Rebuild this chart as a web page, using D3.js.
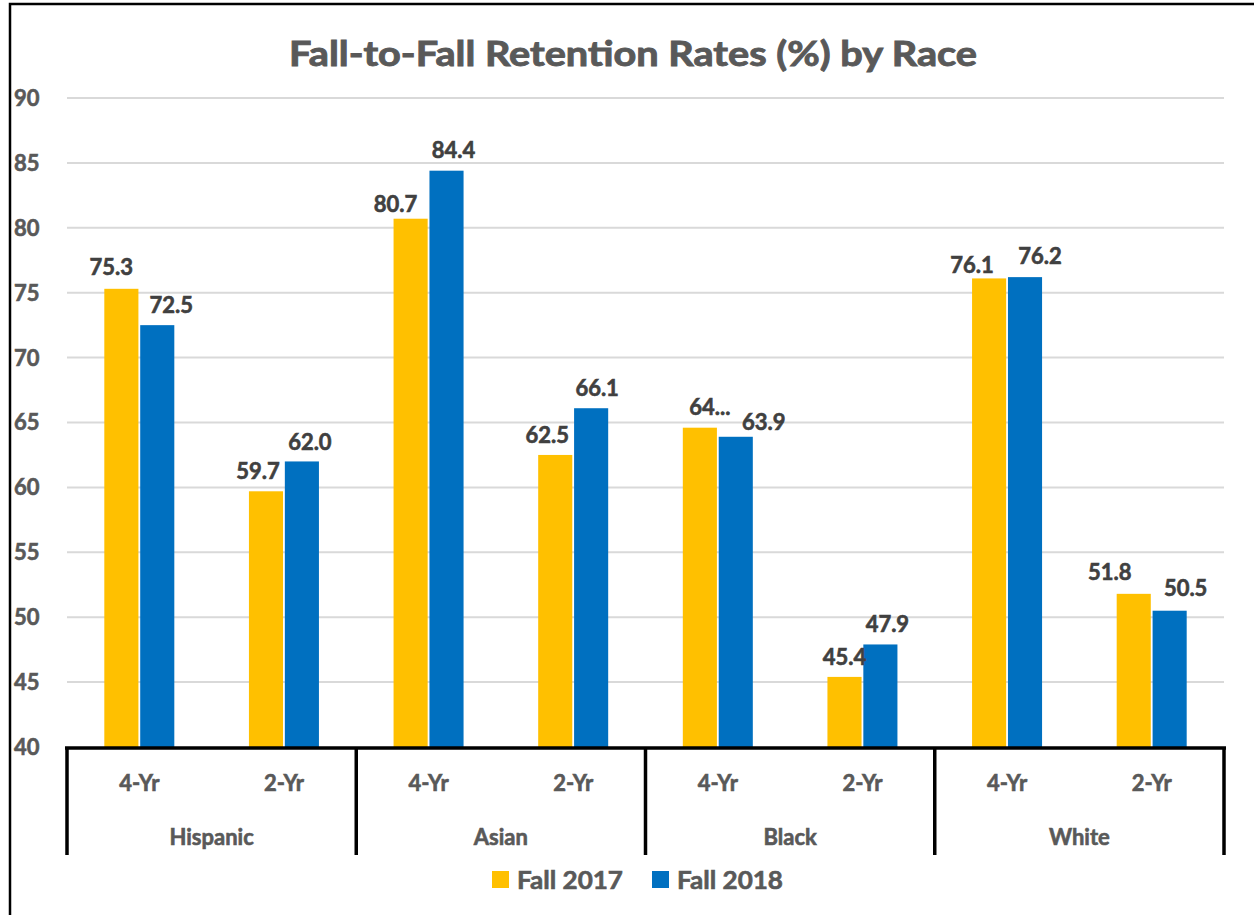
<!DOCTYPE html>
<html><head><meta charset="utf-8">
<script src="https://cdn.jsdelivr.net/npm/d3@7"></script>
<style>html,body{margin:0;padding:0;background:#fff;overflow:hidden}</style>
</head><body>
<script>
const groups = ["Hispanic","Asian","Black","White"];
const subCats = ["4-Yr","2-Yr"];
const seriesNames = ["Fall 2017","Fall 2018"];
const fall2017 = [75.3, 59.7, 80.7, 62.5, 64.6, 45.4, 76.1, 51.8];
const fall2018 = [72.5, 62.0, 84.4, 66.1, 63.9, 47.9, 76.2, 50.5];
const yTicks = [40,45,50,55,60,65,70,75,80,85,90];
const title = "Fall-to-Fall Retention Rates (%) by Race";

// label nudges (layout only): horizontal shift from bar centre, gap above bar top
const labelDx = [[-10,-8,-15,-8,10,0,-17,-24],[14,8,7,6,28,7,15,16]];
const labelGap = [[14,12,7,12,13,12,5,14],[12,11,13,12,7,12,13,15]];

const W = 1254, H = 915;
const colors = ["#FFC000", "#0070C0"];
const font = "Lato, 'Open Sans', sans-serif";

const svg = d3.select("body").append("svg").attr("width", W).attr("height", H);
svg.append("rect").attr("x",0).attr("y",0).attr("width",W).attr("height",H).attr("fill","#fff");
svg.append("rect").attr("x",10).attr("y",4).attr("width",W+20).attr("height",H+20)
  .attr("fill","none").attr("stroke","#000").attr("stroke-width",2.5);

const pLeft = 67, pRight = 1224, pTop = 98, pBottom = 747;
const y = d3.scaleLinear().domain([40,90]).range([pBottom, pTop]);

const keys = [];
groups.forEach(g => subCats.forEach(s => keys.push(g + "|" + s)));
const x0 = d3.scaleBand().domain(keys).range([pLeft, pRight]).paddingInner(0.516).paddingOuter(0.258);
const x1 = d3.scaleBand().domain(seriesNames).range([0, x0.bandwidth()]).paddingInner(0.05);

function boldText(sel, size, color) {
  return sel.attr("font-family", font).attr("font-weight", 700).attr("font-size", size)
    .attr("fill", color).attr("stroke", color).attr("stroke-width", 0.6);
}

// gridlines
svg.append("g").selectAll("line").data(yTicks.filter(t => t > 40)).join("line")
  .attr("x1", pLeft).attr("x2", pRight).attr("y1", d => y(d)).attr("y2", d => y(d))
  .attr("stroke", "#d9d9d9").attr("stroke-width", 2);

// y tick labels
boldText(svg.append("g").selectAll("text").data(yTicks).join("text")
  .attr("x", 14).attr("y", d => y(d)).attr("dy", "0.36em"), 22, "#595959").text(d => d);

// title
boldText(svg.append("text").attr("x", 633).attr("y", 66).attr("text-anchor", "middle"), 34, "#595959")
  .attr("stroke-width", 0.9)
  .attr("textLength", 688).attr("lengthAdjust", "spacingAndGlyphs")
  .text(title);

// bars
const data = keys.map((k, i) => ({key: k, vals: [fall2017[i], fall2018[i]]}));
const fmt = d3.format(".1f");
const labelText = [fall2017.map(fmt), fall2018.map(fmt)];
labelText[0][4] = "64...";

const bars = [];
data.forEach((d, i) => {
  d.vals.forEach((v, s) => {
    bars.push({key: d.key, s, v, i, label: labelText[s][i]});
  });
});
svg.append("g").selectAll("rect").data(bars).join("rect")
  .attr("x", d => x0(d.key) + x1(seriesNames[d.s]))
  .attr("y", d => y(d.v))
  .attr("width", x1.bandwidth())
  .attr("height", d => y(40) - y(d.v))
  .attr("fill", d => colors[d.s]);

// data labels
boldText(svg.append("g").selectAll("text").data(bars).join("text")
  .attr("x", d => x0(d.key) + x1(seriesNames[d.s]) + x1.bandwidth()/2 + labelDx[d.s][d.i])
  .attr("y", d => y(d.v) - labelGap[d.s][d.i])
  .attr("text-anchor", "middle"), 22, "#404040")
  .text(d => d.label);

// x axis
const axisG = svg.append("g");
axisG.append("line").attr("x1", pLeft - 2).attr("x2", pRight + 2).attr("y1", pBottom + 1).attr("y2", pBottom + 1)
  .attr("stroke", "#000").attr("stroke-width", 3.5);
const step = x0.step();
d3.range(groups.length + 1).forEach(g => {
  const xx = pLeft + g * 2 * step;
  axisG.append("line").attr("x1", xx).attr("x2", xx).attr("y1", pBottom).attr("y2", 855)
    .attr("stroke", "#000").attr("stroke-width", 3.5);
});
boldText(axisG.selectAll("text.sub").data(keys).join("text").attr("class","sub")
  .attr("x", d => x0(d) + x0.bandwidth()/2).attr("y", 783).attr("dy","0.36em")
  .attr("text-anchor","middle"), 22, "#595959").text(d => d.split("|")[1]);
boldText(axisG.selectAll("text.grp").data(groups).join("text").attr("class","grp")
  .attr("x", (d, g) => pLeft + (g * 2 + 1) * step).attr("y", 837).attr("dy","0.36em")
  .attr("text-anchor","middle"), 22, "#595959").text(d => d);

// legend
const legX = [492, 652];
seriesNames.forEach((n, s) => {
  svg.append("rect").attr("x", legX[s]).attr("y", 871).attr("width", 17).attr("height", 17).attr("fill", colors[s]);
  boldText(svg.append("text").attr("x", legX[s] + 25).attr("y", 880).attr("dy","0.36em"), 24, "#595959")
    .attr("textLength", 106).attr("lengthAdjust", "spacingAndGlyphs").text(n);
});
</script>
</body></html>
